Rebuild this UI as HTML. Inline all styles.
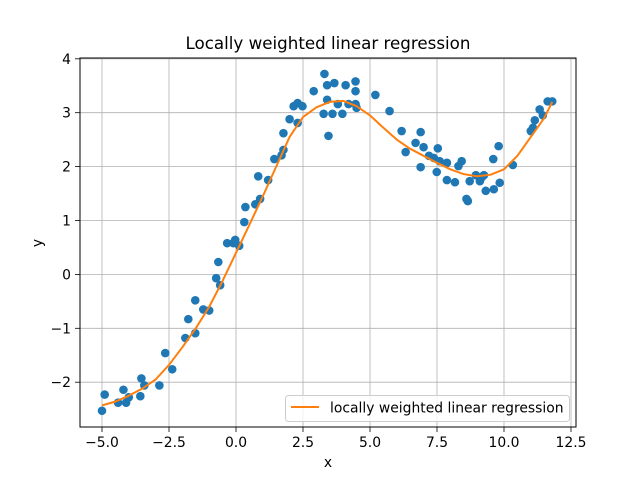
<!DOCTYPE html>
<html><head><meta charset="utf-8"><style>
body{margin:0;background:#fff;}
svg text{font-family:"DejaVu Sans","Liberation Sans",sans-serif;fill:#000;}
</style></head><body>
<svg id="chart" width="640" height="480" viewBox="0 0 640 480" xmlns="http://www.w3.org/2000/svg">
<rect width="640" height="480" fill="#fff"/>
<g id="grid"></g>
<g id="points"></g>
<g id="curve"></g>
<rect x="80" y="58" width="496" height="369" fill="none" stroke="#000" stroke-width="1"/>
<g id="ticks"></g>
<text x="328" y="49" font-size="16.7" text-anchor="middle">Locally weighted linear regression</text>
<text x="328" y="467" font-size="13.9" text-anchor="middle">x</text>
<text x="42" y="243" font-size="13.9" text-anchor="middle" transform="rotate(-90 42 243)">y</text>
<g>
<rect x="285.5" y="395.5" width="284" height="26" rx="3" fill="#fff" fill-opacity="0.8" stroke="#ccc"/>
<line x1="291" y1="407" x2="319" y2="407" stroke="#ff7f0e" stroke-width="2"/>
<text x="330" y="412.5" font-size="13.9">locally weighted linear regression</text>
</g>
</svg>
<script>
const xs=[-5.0,-4.9,-4.4,-4.2,-4.1,-4.0,-3.57,-3.53,-3.42,-2.86,-2.64,-2.38,-1.89,-1.78,-1.52,-1.52,-1.22,-1.0,-0.74,-0.66,-0.59,-0.33,-0.1,-0.03,0.12,0.31,0.35,0.72,0.83,0.9,1.2,1.43,1.7,1.77,1.77,2.0,2.15,2.3,2.3,2.48,2.9,3.3,3.27,3.4,3.4,3.45,3.6,3.67,3.8,3.97,4.09,4.2,4.46,4.46,4.46,4.5,5.2,5.73,6.18,6.33,6.7,6.89,6.89,7.0,7.2,7.38,7.49,7.53,7.6,7.87,7.87,8.17,8.3,8.42,8.6,8.65,8.72,8.95,9.1,9.17,9.25,9.32,9.6,9.62,9.8,9.84,10.33,11.0,11.08,11.15,11.33,11.45,11.63,11.8];
const ys=[-2.53,-2.23,-2.38,-2.14,-2.38,-2.28,-2.26,-1.93,-2.06,-2.06,-1.46,-1.76,-1.18,-0.83,-1.09,-0.48,-0.65,-0.67,-0.07,0.23,-0.2,0.58,0.58,0.64,0.53,0.97,1.25,1.3,1.82,1.4,1.75,2.14,2.21,2.31,2.62,2.88,3.12,3.18,2.81,3.12,3.4,3.72,2.98,3.24,3.51,2.57,2.98,3.55,3.16,2.98,3.51,3.16,3.58,3.4,3.16,3.09,3.33,3.03,2.66,2.27,2.44,2.64,1.99,2.36,2.2,2.16,1.9,2.34,2.1,1.75,2.07,1.71,2.01,2.1,1.4,1.36,1.73,1.84,1.73,1.8,1.84,1.55,2.14,1.58,2.38,1.7,2.03,2.66,2.72,2.86,3.06,2.95,3.21,3.21];
const fitX=[-5,-4.5,-4,-3.5,-3,-2.5,-2,-1.5,-1,-0.5,0,0.5,1,1.5,2,2.5,3,3.5,4,4.5,5,5.5,6,6.5,7,7.5,8,8.5,9,9.5,10,10.5,11,11.5,11.8];
const fitY=[-2.43,-2.36,-2.25,-2.12,-1.95,-1.68,-1.35,-1.0,-0.6,-0.12,0.4,0.92,1.45,2.0,2.55,2.92,3.1,3.2,3.22,3.12,2.95,2.72,2.5,2.33,2.2,2.07,1.95,1.86,1.82,1.85,1.95,2.2,2.55,2.9,3.2];
const xTicks=[-5,-2.5,0,2.5,5,7.5,10,12.5];
const xTickLabels=["\u22125.0","\u22122.5","0.0","2.5","5.0","7.5","10.0","12.5"];
const yTicks=[-2,-1,0,1,2,3,4];
const yTickLabels=["\u22122","\u22121","0","1","2","3","4"];
const NS="http://www.w3.org/2000/svg";
const sx=v=>236+v*26.8;
const sy=v=>274.4-v*53.9;
function mk(t,a,p){const e=document.createElementNS(NS,t);for(const k in a)e.setAttribute(k,a[k]);p.appendChild(e);return e;}
const grid=document.getElementById('grid'),ticks=document.getElementById('ticks');
xTicks.forEach((v,i)=>{
 const g=mk('line',{x1:sx(v),x2:sx(v),y1:58,y2:427,stroke:'#b0b0b0','stroke-width':0.8},grid);
 
 
 const t=mk('line',{x1:sx(v),x2:sx(v),y1:427,y2:432,stroke:'#000','stroke-width':0.8},ticks);
 
 
 const l=mk('text',{x:sx(v),y:447,'font-size':13.9,'text-anchor':'middle'},ticks);
 l.textContent=xTickLabels[i];
 
 
});
yTicks.forEach((v,i)=>{
 const g=mk('line',{x1:80,x2:576,y1:sy(v),y2:sy(v),stroke:'#b0b0b0','stroke-width':0.8},grid);
 
 
 const t=mk('line',{x1:75,x2:80,y1:sy(v),y2:sy(v),stroke:'#000','stroke-width':0.8},ticks);
 
 
 const l=mk('text',{x:71,y:sy(v)+5,'font-size':13.9,'text-anchor':'end'},ticks);
 l.textContent=yTickLabels[i];
 
 
});
const pts=document.getElementById('points');
xs.forEach((v,i)=>{
 const c=mk('circle',{cx:sx(v),cy:sy(ys[i]),r:4.3,fill:'#1f77b4'},pts);
 
 
});
const p=mk('polyline',{points:fitX.map((v,i)=>sx(v)+','+sy(fitY[i])).join(' '),fill:'none',stroke:'#ff7f0e','stroke-width':2,'stroke-linejoin':'round'},document.getElementById('curve'));


</script>
</body></html>
